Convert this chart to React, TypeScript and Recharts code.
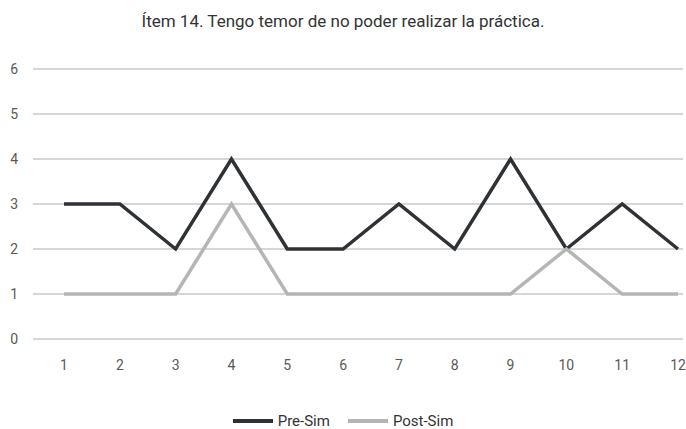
import React from 'react';
import { LineChart, Line, XAxis, YAxis, CartesianGrid, Legend } from 'recharts';

const items = ['1', '2', '3', '4', '5', '6', '7', '8', '9', '10', '11', '12'];
const preSim = [3, 3, 2, 4, 2, 2, 3, 2, 4, 2, 3, 2];
const postSim = [1, 1, 1, 3, 1, 1, 1, 1, 1, 2, 1, 1];
const yTicks = [0, 1, 2, 3, 4, 5, 6];

const series = [
  { key: 'pre', name: 'Pre-Sim', color: '#2e3136' },
  { key: 'post', name: 'Post-Sim', color: '#b5b5b5' },
];

const data = items.map((item, i) => ({ item, pre: preSim[i], post: postSim[i] }));

const font = 'Roboto, "Liberation Sans", sans-serif';

const LegendContent = () => (
  <div style={{ display: 'flex', justifyContent: 'center', fontFamily: font, fontSize: 15, color: '#333' }}>
    {series.map((s) => (
      <div key={s.key} style={{ display: 'flex', alignItems: 'center', margin: '0 9px' }}>
        <span style={{ display: 'inline-block', width: 40, height: 4, background: s.color, marginRight: 5 }} />
        {s.name}
      </div>
    ))}
  </div>
);

const App: React.FC = () => {
  return (
    <div style={{ position: 'absolute', top: 0, left: 0, width: 686, height: 429, background: '#fff' }}>
      <div
        style={{
          position: 'absolute',
          top: 11,
          width: 686,
          textAlign: 'center',
          fontFamily: font,
          fontSize: 17,
          color: '#333',
        }}>
        Ítem 14. Tengo temor de no poder realizar la práctica.
      </div>
      <LineChart width={686} height={429} data={data} margin={{ top: 69, right: 3, bottom: 30, left: 0 }}>
        <CartesianGrid vertical={false} stroke='#c9c9c9' strokeWidth={1.3} />
        <XAxis
          dataKey='item'
          axisLine={false}
          tickLine={false}
          tickSize={0}
          tickMargin={21}
          padding={{ left: 31, right: 5 }}
          tick={{ fill: '#595959', fontSize: 14, fontFamily: font }}
        />
        <YAxis
          domain={[0, 6]}
          ticks={yTicks}
          width={33}
          axisLine={false}
          tickLine={false}
          tickSize={0}
          tickMargin={15}
          tick={{ fill: '#595959', fontSize: 14, fontFamily: font }}
        />
        <Legend height={30} wrapperStyle={{ top: 412, left: 0, width: 686 }} content={<LegendContent />} />
        {series.map((s) => (
          <Line
            key={s.key}
            dataKey={s.key}
            name={s.name}
            stroke={s.color}
            strokeWidth={3.5}
            dot={false}
            isAnimationActive={false}
          />
        ))}
      </LineChart>
    </div>
  );
};

export default App;
